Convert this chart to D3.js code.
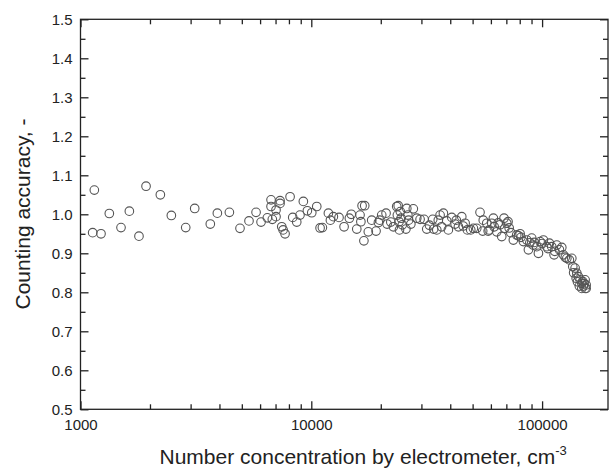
<!DOCTYPE html>
<meta charset="utf-8">
<html>
  <head>
    <style>
      body { margin: 0; background: #fff; }
      .axis text {
        font-family: "Liberation Sans", Arial, Helvetica, sans-serif;
        font-size: 15px;
        fill: #222;
      }
      .axis line { stroke: #222; stroke-width: 1.3; }
      .axis path.domain { display: none; }
      .axisLabel {
        font-family: "Liberation Sans", Arial, Helvetica, sans-serif;
        font-size: 21px;
        fill: #222;
      }
    </style>
  </head>
<script src="https://d3js.org/d3.v7.min.js"></script>
<div id="my_dataviz"></div>
<script>

    // number concentration by electrometer (cm-3)
    var conc = [
      1148, 1129, 1227, 1333, 1498, 1628, 1792, 1923, 2218, 2475,
      2857, 3125, 3651, 3917, 4416, 4910, 5371, 5763, 6057, 6450,
      6692, 6692, 6777, 7033, 7033, 7321, 7321, 7447, 7696, 7550,
      8092, 8310, 8648, 8933, 9237, 9616, 10046, 10560, 10915, 11170,
      11859, 12462, 13185, 13868, 14620, 15740, 16260, 16596, 17040, 16900,
      16400, 17660, 18270, 19080, 19530, 20190, 21080, 21300, 22680, 23450,
      23800, 23600, 24100, 24000, 24300, 24500, 24800, 25930, 25700, 26200,
      26400, 27670, 28640, 29600, 30810, 31640, 33590, 33900, 34970, 36140,
      37350, 36700, 38620, 39250, 40610, 41980, 43400, 44870, 46400, 47450,
      49080, 50380, 52100, 53830, 55290, 55600, 57580, 58400, 60530, 61510,
      62000, 63630, 65760, 66850, 68400, 68900, 70310, 71200, 73190, 75080,
      77630, 80290, 81000, 85840, 87250, 88500, 90160, 91500, 94840, 96410,
      98010, 101300, 104800, 107600, 110100, 112700, 115800, 118900, 121700, 123700,
      128000, 131300, 134500, 135800, 139000, 141400, 143700, 146100, 148600, 151000,
      153600, 155200, 155200, 153600, 148600, 145000, 142300, 140500, 150000, 152000,
      12100, 14900, 19800, 22100, 27000, 32500, 35500, 42500, 45500, 59000,
      64500, 72000, 79000, 83000, 92500, 100000, 106000, 113500, 126000, 137000
    ];

    // counting accuracy (-)
    var accuracy = [
      1.062, 0.953, 0.950, 1.002, 0.966, 1.008, 0.944, 1.072, 1.050, 0.997,
      0.966, 1.015, 0.975, 1.003, 1.005, 0.964, 0.983, 1.005, 0.980, 0.991,
      1.037, 1.020, 0.987, 0.994, 1.011, 1.035, 1.028, 0.968, 0.950, 0.960,
      1.045, 0.992, 0.980, 0.998, 1.033, 1.009, 1.004, 1.020, 0.965, 0.966,
      1.003, 0.994, 0.992, 0.968, 0.990, 0.962, 0.998, 1.022, 1.022, 0.932,
      0.981, 0.955, 0.985, 0.957, 0.979, 0.998, 1.003, 0.975, 0.968, 1.020,
      1.022, 0.998, 0.960, 0.981, 1.007, 0.990, 0.973, 1.015, 0.962, 0.998,
      0.985, 1.014, 0.990, 0.987, 0.987, 0.962, 0.987, 0.962, 0.960, 0.998,
      1.003, 0.968, 0.983, 0.960, 0.992, 0.975, 0.968, 0.994, 0.977, 0.960,
      0.960, 0.964, 0.964, 1.005, 0.957, 0.985, 0.977, 0.957, 0.977, 0.990,
      0.968, 0.955, 0.973, 0.943, 0.990, 0.964, 0.977, 0.981, 0.953, 0.934,
      0.947, 0.950, 0.941, 0.934, 0.909, 0.927, 0.939, 0.921, 0.917, 0.900,
      0.930, 0.934, 0.917, 0.926, 0.917, 0.896, 0.921, 0.909, 0.915, 0.896,
      0.887, 0.883, 0.887, 0.866, 0.862, 0.849, 0.840, 0.832, 0.823, 0.816,
      0.832, 0.819, 0.810, 0.810, 0.810, 0.816, 0.827, 0.836, 0.828, 0.822,
      0.985, 1.000, 0.985, 0.980, 0.975, 0.972, 0.985, 0.985, 0.970, 0.960,
      0.978, 0.965, 0.945, 0.930, 0.928, 0.925, 0.912, 0.905, 0.890, 0.850
    ];

    var yMajor = [0.5, 0.6, 0.7, 0.8, 0.9, 1.0, 1.1, 1.2, 1.3, 1.4, 1.5];
    var yMinor = [0.55, 0.65, 0.75, 0.85, 0.95, 1.05, 1.15, 1.25, 1.35, 1.45];
    var xMajor = [1000, 10000, 100000];
    var xMinor = [2000, 3000, 4000, 5000, 6000, 7000, 8000, 9000,
                  20000, 30000, 40000, 50000, 60000, 70000, 80000, 90000];

    var margin = {top: 19.3, right: 2, bottom: 59.7, left: 80.5},
        width = 610 - margin.left - margin.right,
        height = 469 - margin.top - margin.bottom;

    var svg = d3.select("#my_dataviz")
      .append("svg")
        .attr("width", 610)
        .attr("height", 469)
      .append("g")
        .attr("transform", "translate(" + margin.left + "," + margin.top + ")");

    var x = d3.scaleLog()
      .domain([1000, 193000])
      .range([0, width]);

    var y = d3.scaleLinear()
      .domain([0.5, 1.5])
      .range([height, 0]);

    // bottom axis (ticks pointing in)
    svg.append("g")
      .attr("class", "axis")
      .attr("transform", "translate(0," + height + ")")
      .call(d3.axisBottom(x).tickValues(xMajor).tickSizeInner(-8).tickSizeOuter(0)
        .tickPadding(10).tickFormat(d3.format("d")));
    svg.append("g")
      .attr("class", "axis")
      .attr("transform", "translate(0," + height + ")")
      .call(d3.axisBottom(x).tickValues(xMinor).tickSizeInner(-5).tickSizeOuter(0).tickFormat(""));

    // top axis
    svg.append("g")
      .attr("class", "axis")
      .call(d3.axisTop(x).tickValues(xMajor).tickSizeInner(-8).tickSizeOuter(0).tickFormat(""));
    svg.append("g")
      .attr("class", "axis")
      .call(d3.axisTop(x).tickValues(xMinor).tickSizeInner(-5).tickSizeOuter(0).tickFormat(""));

    // left axis
    svg.append("g")
      .attr("class", "axis")
      .call(d3.axisLeft(y).tickValues(yMajor).tickSizeInner(-8).tickSizeOuter(0)
        .tickPadding(8).tickFormat(d3.format(".1f")));
    svg.append("g")
      .attr("class", "axis")
      .call(d3.axisLeft(y).tickValues(yMinor).tickSizeInner(-5).tickSizeOuter(0).tickFormat(""));

    // right axis
    svg.append("g")
      .attr("class", "axis")
      .attr("transform", "translate(" + width + ",0)")
      .call(d3.axisRight(y).tickValues(yMajor).tickSizeInner(-8).tickSizeOuter(0).tickFormat(""));
    svg.append("g")
      .attr("class", "axis")
      .attr("transform", "translate(" + width + ",0)")
      .call(d3.axisRight(y).tickValues(yMinor).tickSizeInner(-5).tickSizeOuter(0).tickFormat(""));

    // frame
    svg.append("rect")
      .attr("x", 0).attr("y", 0)
      .attr("width", width).attr("height", height)
      .attr("fill", "none")
      .attr("stroke", "#222")
      .attr("stroke-width", 1.3);

    // points
    svg.selectAll("circle.pt")
      .data(conc)
      .enter()
      .append("circle")
        .attr("class", "pt")
        .attr("cx", function(d) { return x(d); })
        .attr("cy", function(d, i) { return y(accuracy[i]); })
        .attr("r", 4.3)
        .attr("fill", "none")
        .attr("stroke", "#555")
        .attr("stroke-width", 1.1);

    // axis titles
    var xt = svg.append("text")
      .attr("class", "axisLabel")
      .attr("x", 159.5 - margin.left)
      .attr("y", 464 - margin.top);
    xt.append("tspan").text("Number concentration by electrometer, cm");
    xt.append("tspan").attr("dy", -9).style("font-size", "13px").text("-3");

    svg.append("text")
      .attr("class", "axisLabel")
      .attr("transform", "rotate(-90)")
      .attr("x", -(214 - margin.top))
      .attr("y", 30 - margin.left)
      .style("text-anchor", "middle")
      .text("Counting accuracy, -");

</script>
</html>
